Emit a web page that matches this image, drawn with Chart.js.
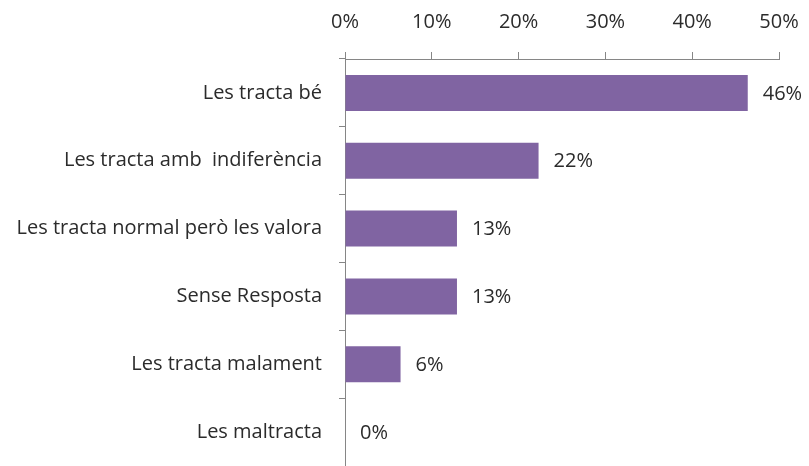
<!DOCTYPE html>
<html>
<head>
<meta charset="utf-8">
<script src="https://cdn.jsdelivr.net/npm/chart.js@4"></script>
<style>
  html, body { margin: 0; padding: 0; background: #fff; }
  #wrap { width: 809px; height: 466px; }
</style>
</head>
<body>
<div id="wrap"><canvas id="answersChart" width="809" height="466"></canvas></div>
<script>
const categories = [
    'Les tracta bé',
    'Les tracta amb  indiferència',
    'Les tracta normal però les valora',
    'Sense Resposta',
    'Les tracta malament',
    'Les maltracta'
];
const percentages = [46.4, 22.3, 12.9, 12.9, 6.4, 0];
const xTicks = [0, 10, 20, 30, 40, 50];

const textFont = { family: 'Open Sans', size: 20 };

// value labels to the right of each bar
const barValueLabels = {
    id: 'barValueLabels',
    afterDatasetsDraw(chart) {
        const ctx = chart.ctx;
        const meta = chart.getDatasetMeta(0);
        ctx.save();
        ctx.font = '20px "Open Sans"';
        ctx.fillStyle = '#2b2b2b';
        ctx.textAlign = 'left';
        ctx.textBaseline = 'middle';
        meta.data.forEach((bar, i) => {
            ctx.fillText(Math.round(percentages[i]) + '%', bar.x + 15, bar.y + 1);
        });
        ctx.restore();
    }
};

// drop the extra room chart.js keeps for half tick labels
function clearScalePadding(scale) {
    scale.paddingLeft = 0;
    scale.paddingRight = 0;
    scale.paddingTop = 0;
    scale.paddingBottom = 0;
}

const ctx = document.getElementById('answersChart').getContext('2d');
new Chart(ctx, {
    type: 'bar',
    data: {
        labels: categories,
        datasets: [{
            data: percentages,
            backgroundColor: '#8064A2',
            barPercentage: 0.53,
            categoryPercentage: 1
        }]
    },
    options: {
        indexAxis: 'y',
        responsive: false,
        animation: false,
        layout: { padding: { right: 30, bottom: 0 } },
        plugins: {
            legend: { display: false },
            tooltip: { enabled: false }
        },
        scales: {
            x: {
                position: 'top',
                min: 0,
                max: 50,
                afterBuildTicks: (scale) => { scale.ticks = xTicks.map(v => ({ value: v })); },
                afterFit: (scale) => { scale.height = 59; clearScalePadding(scale); },
                ticks: {
                    callback: (v) => v + '%',
                    font: textFont,
                    color: '#2b2b2b',
                    padding: 18,
                    maxRotation: 0
                },
                grid: {
                    drawOnChartArea: false,
                    drawTicks: true,
                    tickLength: 7,
                    color: '#868686'
                },
                border: { color: '#868686' }
            },
            y: {
                afterFit: (scale) => { scale.width = 345; clearScalePadding(scale); },
                ticks: {
                    font: textFont,
                    color: '#2b2b2b',
                    padding: 17
                },
                grid: {
                    drawOnChartArea: false,
                    drawTicks: true,
                    tickLength: 6,
                    offset: true,
                    color: '#868686'
                },
                border: { color: '#868686' }
            }
        }
    },
    plugins: [barValueLabels]
});
</script>
</body>
</html>
